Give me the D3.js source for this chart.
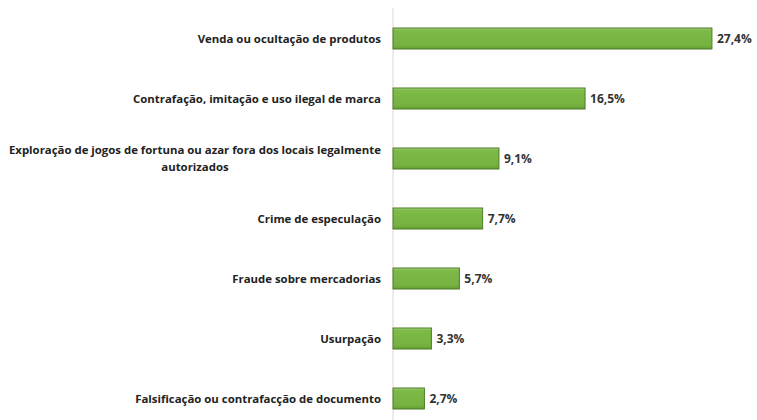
<!DOCTYPE html>
<html>
<head>
<meta charset="utf-8">
<script src="https://cdn.jsdelivr.net/npm/d3@7"></script>
<style>
  body { margin: 0; background: #fff; }
  svg { display: block; font-family: "Open Sans", "DejaVu Sans", sans-serif; }
</style>
</head>
<body>
<div id="chart"></div>
<script>
const categories = [
    "Venda ou ocultação de produtos",
    "Contrafação, imitação e uso ilegal de marca",
    "Exploração de jogos de fortuna ou azar fora dos locais legalmente autorizados",
    "Crime de especulação",
    "Fraude sobre mercadorias",
    "Usurpação",
    "Falsificação ou contrafacção de documento"
];
const values = [27.4, 16.5, 9.1, 7.7, 5.7, 3.3, 2.7];
const valueLabels = ["27,4%", "16,5%", "9,1%", "7,7%", "5,7%", "3,3%", "2,7%"];
// line breaks as they appear in the reference
const labelLines = [
    ["Venda ou ocultação de produtos"],
    ["Contrafação, imitação e uso ilegal de marca"],
    ["Exploração de jogos de fortuna ou azar fora dos locais legalmente", "autorizados"],
    ["Crime de especulação"],
    ["Fraude sobre mercadorias"],
    ["Usurpação"],
    ["Falsificação ou contrafacção de documento"]
];

const width = 757, height = 420;
const axisX = 393;

const svg = d3.select("#chart").append("svg")
    .attr("width", width)
    .attr("height", height);

const defs = svg.append("defs");
const grad = defs.append("linearGradient")
    .attr("id", "barGrad")
    .attr("x1", 0).attr("y1", 0).attr("x2", 0).attr("y2", 1);
grad.append("stop").attr("offset", "0%").attr("stop-color", "#a6d27a");
grad.append("stop").attr("offset", "12%").attr("stop-color", "#7dba48");
grad.append("stop").attr("offset", "85%").attr("stop-color", "#74b13f");
grad.append("stop").attr("offset", "100%").attr("stop-color", "#5f9a30");

const x = d3.scaleLinear()
    .domain([0, 30])
    .range([axisX, axisX + 349.2]);

const y = d3.scaleBand()
    .domain(categories)
    .range([8.5, 428.5])
    .paddingInner(0.65)
    .paddingOuter(0.325);

// vertical axis line
svg.append("line")
    .attr("x1", axisX).attr("x2", axisX)
    .attr("y1", 8).attr("y2", height)
    .attr("stroke", "#d9d9d9")
    .attr("stroke-width", 1);

// bars
svg.selectAll(".bar")
    .data(values)
    .enter().append("rect")
    .attr("class", "bar")
    .attr("x", x(0))
    .attr("y", (d, i) => y(categories[i]))
    .attr("width", d => x(d) - x(0))
    .attr("height", y.bandwidth())
    .attr("fill", "url(#barGrad)")
    .attr("stroke", "#4e7d28")
    .attr("stroke-width", 1);

// value labels
svg.selectAll(".val")
    .data(values)
    .enter().append("text")
    .attr("class", "val")
    .attr("x", d => x(d) + 5)
    .attr("y", (d, i) => y(categories[i]) + y.bandwidth() / 2)
    .attr("dy", "0.35em")
    .attr("font-size", 12)
    .attr("font-weight", "bold")
    .attr("fill", "#333")
    .text((d, i) => valueLabels[i]);

// category labels
const catG = svg.selectAll(".cat")
    .data(categories)
    .enter().append("text")
    .attr("class", "cat")
    .attr("font-size", 11.4)
    .attr("font-weight", "bold")
    .attr("fill", "#222")
    .attr("text-anchor", "end")
    .attr("transform", d => `translate(381, ${y(d) + y.bandwidth() / 2})`);

catG.each(function(d, i) {
    const lines = labelLines[i];
    const t = d3.select(this);
    if (lines.length === 1) {
        t.append("tspan").attr("x", 0).attr("dy", "0.35em").text(lines[0]);
    } else {
        // wrapped label: lines centered under the first, right edge at 381
        t.attr("text-anchor", "middle");
        const tmp = t.append("tspan").text(lines[0]);
        const w = tmp.node().getComputedTextLength();
        tmp.remove();
        lines.forEach((line, k) => {
            t.append("tspan")
                .attr("x", -w / 2)
                .attr("y", (k - (lines.length - 1) / 2) * 17)
                .attr("dy", "0.35em")
                .text(line);
        });
    }
});
</script>
</body>
</html>
